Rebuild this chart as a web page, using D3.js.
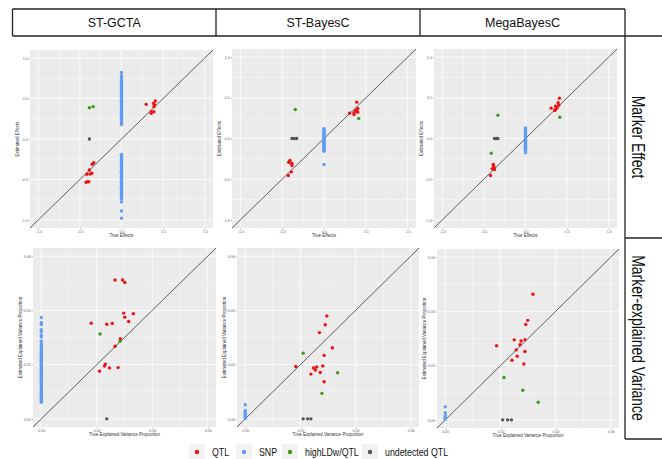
<!DOCTYPE html>
<html>
<head>
<meta charset="utf-8">
<script src="https://cdn.jsdelivr.net/npm/d3@7"></script>
<style>
  body { margin: 0; background: #fff; }
  text { font-family: "Liberation Sans", Arial, sans-serif; }
</style>
</head>
<body>
<div id="chart"></div>
<script>

// data

const methods = ["ST-GCTA", "ST-BayesC", "MegaBayesC"];
const rowLabels = ["Marker Effect", "Marker-explained Variance"];
const groups = ["QTL", "SNP", "highLDw/QTL", "undetected QTL"];

const effectTicks = [-1, -0.5, 0, 0.5, 1];
const varTicks = [0, 0.02, 0.04, 0.06];

// ST-GCTA, marker effect
const gctaEffQtl = [[0.297, 0.428], [0.386, 0.44], [0.406, 0.469], [0.398, 0.42], [0.39, 0.40],
  [0.357, 0.337], [0.357, 0.317], [0.39, 0.337], [-0.333, -0.292], [-0.353, -0.313],
  [-0.386, -0.383], [-0.357, -0.424], [-0.378, -0.432], [-0.418, -0.436], [-0.406, -0.527],
  [-0.426, -0.535], [-0.394, -0.527]];
const gctaEffSnp = [0.18, 0.195, 0.21, 0.225, 0.24, 0.255, 0.27, 0.285, 0.30, 0.315, 0.33, 0.345,
  0.36, 0.375, 0.39, 0.405, 0.42, 0.435, 0.45, 0.465, 0.48, 0.495, 0.51, 0.525, 0.54, 0.555,
  0.57, 0.585, 0.60, 0.615, 0.63, 0.645, 0.66, 0.675, 0.69, 0.705, 0.72, 0.75, 0.782, 0.823,
  -0.19, -0.205, -0.22, -0.235, -0.25, -0.265, -0.28, -0.295, -0.31, -0.325, -0.34, -0.355,
  -0.37, -0.385, -0.40, -0.415, -0.43, -0.445, -0.46, -0.475, -0.49, -0.505, -0.52, -0.535,
  -0.55, -0.565, -0.58, -0.595, -0.61, -0.625, -0.64, -0.655, -0.67, -0.685, -0.70, -0.715,
  -0.745, -0.78, -0.889, -0.979];
const gctaEffLd = [[-0.386, 0.387], [-0.341, 0.40]];
const gctaEffMiss = [[-0.386, 0]];

// ST-BayesC, marker effect
const bayesEffQtl = [[0.391, 0.447], [0.403, 0.369], [0.395, 0.336], [0.403, 0.324], [0.359, 0.316],
  [0.359, 0.295], [0.306, 0.311], [0.379, 0.344], [-0.407, -0.27], [-0.415, -0.291],
  [-0.383, -0.307], [-0.383, -0.332], [-0.391, -0.41], [-0.427, -0.455]];
const bayesEffSnp = [0.119, 0.107, 0.095, 0.083, 0.071, 0.059, 0.047, 0.035, 0.023, 0.011, -0.001,
  -0.013, -0.025, -0.037, -0.049, -0.061, -0.073, -0.085, -0.097, -0.109, -0.121, -0.133,
  -0.145, -0.156, -0.32];
const bayesEffLd = [[0.415, 0.246], [-0.343, 0.357], [-0.423, -0.291]];
const bayesEffMiss = [[-0.383, 0], [-0.355, 0], [-0.327, 0]];

// MegaBayesC, marker effect
const megaEffQtl = [[0.408, 0.496], [0.392, 0.439], [0.40, 0.41], [0.38, 0.377], [0.36, 0.398],
  [0.36, 0.357], [0.308, 0.373], [0.352, 0.344], [-0.388, -0.32], [-0.38, -0.348],
  [-0.40, -0.373], [-0.372, -0.381], [-0.385, -0.36], [-0.42, -0.455]];
const megaEffSnp = [0.131, 0.119, 0.107, 0.095, 0.083, 0.071, 0.059, 0.047, 0.035, 0.023, 0.011,
  -0.001, -0.013, -0.025, -0.037, -0.049, -0.061, -0.073, -0.085, -0.097, -0.109, -0.121,
  -0.133, -0.16, -0.176];
const megaEffLd = [[0.412, 0.262], [-0.332, 0.287], [-0.412, -0.18]];
const megaEffMiss = [[-0.372, 0], [-0.352, 0], [-0.332, 0]];

// ST-GCTA, explained variance
const gctaVarQtl = [[0.0266, 0.0512], [0.0293, 0.0512], [0.0301, 0.0503], [0.0297, 0.039],
  [0.0301, 0.0375], [0.0332, 0.0388], [0.0315, 0.0359], [0.018, 0.0353], [0.0236, 0.0349],
  [0.0256, 0.0352], [0.0285, 0.0296], [0.0266, 0.0268], [0.0231, 0.0202], [0.0228, 0.0195],
  [0.0246, 0.0188], [0.021, 0.0176], [0.0277, 0.0189]];
const gctaVarSnp = [0.0374, 0.0355, 0.0348, 0.0329, 0.032, 0.0308, 0.0302, 0.0286, 0.0277,
  0.0271, 0.0266, 0.0261, 0.0256, 0.0251, 0.0246, 0.0241, 0.0236, 0.0231, 0.0226, 0.0221,
  0.0216, 0.0211, 0.0206, 0.0201, 0.0196, 0.0191, 0.0186, 0.0181, 0.0176, 0.0171, 0.0166,
  0.0161, 0.0156, 0.0151, 0.0146, 0.0141, 0.0136, 0.0131, 0.0126, 0.0121, 0.0116, 0.0111,
  0.0106, 0.0101, 0.0096, 0.0091, 0.0086, 0.0081, 0.0076, 0.0071, 0.0066, 0.0061];
const gctaVarLd = [[0.0212, 0.0313], [0.0284, 0.0286]];
const gctaVarMiss = [[0.0236, 0]];

// ST-BayesC, explained variance
const bayesVarQtl = [[0.0296, 0.0379], [0.029, 0.0347], [0.0269, 0.0318], [0.0316, 0.0262],
  [0.0286, 0.0234], [0.0281, 0.0195], [0.0259, 0.0191], [0.0247, 0.0188], [0.0254, 0.018],
  [0.0272, 0.0171], [0.0238, 0.0165], [0.0183, 0.0193], [0.0286, 0.0137]];
const bayesVarSnp = [0.0052, 0.0031, 0.0027, 0.0023, 0.0019, 0.0015, 0.0011, 0.0007, 0.0004, 0.0001];
const bayesVarLd = [[0.021, 0.0242], [0.0335, 0.017], [0.0278, 0.0094]];
const bayesVarMiss = [[0.021, 0], [0.0226, 0], [0.0238, 0]];

// MegaBayesC, explained variance
const megaVarQtl = [[0.0318, 0.0463], [0.0299, 0.0367], [0.0292, 0.0352], [0.025, 0.0295],
  [0.0275, 0.0291], [0.0289, 0.0296], [0.0271, 0.0277], [0.0257, 0.0258], [0.0186, 0.0273],
  [0.0289, 0.0252], [0.0261, 0.0235], [0.0242, 0.022], [0.0285, 0.0206]];
const megaVarSnp = [0.0048, 0.0026, 0.0015, 0.0009, 0.0005, 0.0002];
const megaVarLd = [[0.0213, 0.0156], [0.0281, 0.0109], [0.0337, 0.0065]];
const megaVarMiss = [[0.0208, 0], [0.0226, 0], [0.024, 0]];

// styles and layout

const colors = {"QTL": "#ee1111", "SNP": "#5f9cf4", "highLDw/QTL": "#3f9a1c", "undetected QTL": "#555555"};

const effDomain = [-1.1, 1.1];
const varDomain = [-0.003, 0.063];

const panels = [
  {box: [30, 213, 50, 228], domain: effDomain, ticks: effectTicks, fmt: d => d.toFixed(1),
   xt: "True Effects", yt: "Estimated Effects",
   qtl: gctaEffQtl, snp: gctaEffSnp, ld: gctaEffLd, miss: gctaEffMiss},
  {box: [232, 416, 49, 228], domain: effDomain, ticks: effectTicks, fmt: d => d.toFixed(1),
   xt: "True Effects", yt: "Estimated Effects",
   qtl: bayesEffQtl, snp: bayesEffSnp, ld: bayesEffLd, miss: bayesEffMiss},
  {box: [434, 617, 49, 228], domain: effDomain, ticks: effectTicks, fmt: d => d.toFixed(1),
   xt: "True Effects", yt: "Estimated Effects",
   qtl: megaEffQtl, snp: megaEffSnp, ld: megaEffLd, miss: megaEffMiss},
  {box: [33, 216, 248, 427], domain: varDomain, ticks: varTicks, fmt: d => d.toFixed(2),
   xt: "True Explained Variance Proportion", yt: "Estimated Explained Variance Proportion",
   qtl: gctaVarQtl, snp: gctaVarSnp, ld: gctaVarLd, miss: gctaVarMiss},
  {box: [237, 419, 248, 427], domain: varDomain, ticks: varTicks, fmt: d => d.toFixed(2),
   xt: "True Explained Variance Proportion", yt: "Estimated Explained Variance Proportion",
   qtl: bayesVarQtl, snp: bayesVarSnp, ld: bayesVarLd, miss: bayesVarMiss},
  {box: [437, 619, 249, 428], domain: varDomain, ticks: varTicks, fmt: d => d.toFixed(2),
   xt: "True Explained Variance Proportion", yt: "Estimated Explained Variance Proportion",
   qtl: megaVarQtl, snp: megaVarSnp, ld: megaVarLd, miss: megaVarMiss}
];

const svg = d3.select("#chart")
  .append("svg")
  .attr("width", 662)
  .attr("height", 459);

svg.append("rect").attr("width", 662).attr("height", 459).attr("fill", "#fff");

// one ggplot-like panel

function drawPanel(p) {
  const [x0, x1, y0, y1] = p.box;
  const x = d3.scaleLinear().domain(p.domain).range([x0, x1]);
  const y = d3.scaleLinear().domain(p.domain).range([y1, y0]);
  const g = svg.append("g");

  g.append("rect")
    .attr("x", x0).attr("y", y0)
    .attr("width", x1 - x0).attr("height", y1 - y0)
    .attr("fill", "#ebebeb");

  // minor grid halfway between major ticks
  const minor = d3.pairs(p.ticks).map(([a, b]) => (a + b) / 2);
  g.selectAll(".vmin").data(minor).join("line")
    .attr("x1", d => x(d)).attr("x2", d => x(d)).attr("y1", y0).attr("y2", y1)
    .attr("stroke", "#fff").attr("stroke-width", 0.4);
  g.selectAll(".hmin").data(minor).join("line")
    .attr("y1", d => y(d)).attr("y2", d => y(d)).attr("x1", x0).attr("x2", x1)
    .attr("stroke", "#fff").attr("stroke-width", 0.4);
  g.selectAll(".vmaj").data(p.ticks).join("line")
    .attr("x1", d => x(d)).attr("x2", d => x(d)).attr("y1", y0).attr("y2", y1)
    .attr("stroke", "#fff").attr("stroke-width", 0.8);
  g.selectAll(".hmaj").data(p.ticks).join("line")
    .attr("y1", d => y(d)).attr("y2", d => y(d)).attr("x1", x0).attr("x2", x1)
    .attr("stroke", "#fff").attr("stroke-width", 0.8);

  // y = x reference line
  g.append("line")
    .attr("x1", x(p.domain[0])).attr("y1", y(p.domain[0]))
    .attr("x2", x(p.domain[1])).attr("y2", y(p.domain[1]))
    .attr("stroke", "#3a3a3a").attr("stroke-width", 0.8);

  // axes
  const xAxis = d3.axisBottom(x).tickValues(p.ticks).tickSize(1.5).tickPadding(0.8).tickFormat(p.fmt);
  const yAxis = d3.axisLeft(y).tickValues(p.ticks).tickSize(1.5).tickPadding(0.8).tickFormat(p.fmt);
  const xa = g.append("g").attr("transform", `translate(0,${y1})`).call(xAxis);
  const ya = g.append("g").attr("transform", `translate(${x0},0)`).call(yAxis);
  [xa, ya].forEach(a => {
    a.select(".domain").remove();
    a.selectAll("line").attr("stroke", "#777").attr("stroke-width", 0.5);
    a.selectAll("text").attr("fill", "#666").attr("font-size", 3.6)
      .attr("font-family", "Liberation Sans, Arial, sans-serif");
  });

  g.append("text")
    .attr("x", (x0 + x1) / 2).attr("y", y1 + 9)
    .attr("text-anchor", "middle").attr("font-size", 4.5).attr("fill", "#333")
    .text(p.xt);
  g.append("text")
    .attr("transform", `translate(${x0 - 11},${(y0 + y1) / 2}) rotate(-90)`)
    .attr("text-anchor", "middle").attr("font-size", 4.5).attr("fill", "#333")
    .text(p.yt);

  // points
  const dot = (data, key) => g.append("g").selectAll("circle")
    .data(data).join("circle")
    .attr("cx", d => x(d[0])).attr("cy", d => y(d[1]))
    .attr("r", 1.7).attr("fill", colors[key]);

  dot(p.snp.map(v => [0, v]), "SNP");
  dot(p.miss, "undetected QTL");
  dot(p.ld, "highLDw/QTL");
  dot(p.qtl, "QTL");
}

panels.forEach(drawPanel);

// header table and row labels

const frame = svg.append("g").attr("stroke", "#222").attr("stroke-width", 1.3);
const colEdges = [12.5, 216, 420, 625];
frame.append("line").attr("x1", 12.5).attr("x2", 625).attr("y1", 9).attr("y2", 9);
frame.append("line").attr("x1", 12.5).attr("x2", 662).attr("y1", 36).attr("y2", 36);
frame.selectAll(".col").data(colEdges).join("line")
  .attr("x1", d => d).attr("x2", d => d).attr("y1", 9).attr("y2", 36);
frame.append("line").attr("x1", 625).attr("x2", 625).attr("y1", 36).attr("y2", 439);
frame.selectAll(".row").data([238, 439]).join("line")
  .attr("x1", 625).attr("x2", 662).attr("y1", d => d).attr("y2", d => d);

svg.selectAll(".method").data(methods).join("text")
  .attr("x", (d, i) => (colEdges[i] + colEdges[i + 1]) / 2)
  .attr("y", 23)
  .attr("text-anchor", "middle").attr("dominant-baseline", "central")
  .attr("font-size", 12.5).attr("fill", "#111")
  .text(d => d);

// row labels are drawn tall and narrow, as in the picture
const rowCenters = [137, 338];
svg.selectAll(".rowlab").data(rowLabels).join("text")
  .attr("transform", (d, i) => `translate(638,${rowCenters[i]}) rotate(90) scale(0.735,1)`)
  .attr("text-anchor", "middle").attr("dominant-baseline", "central")
  .attr("font-size", 19).attr("fill", "#111")
  .text(d => d);

// legend

const keyX = [189, 236, 282, 362];
const leg = svg.append("g");
leg.selectAll("rect").data(groups).join("rect")
  .attr("x", (d, i) => keyX[i]).attr("y", 444)
  .attr("width", 16).attr("height", 16).attr("fill", "#f2f2f2");
leg.selectAll("circle").data(groups).join("circle")
  .attr("cx", (d, i) => keyX[i] + 8).attr("cy", 452)
  .attr("r", 2.2).attr("fill", d => colors[d]);
leg.selectAll("text").data(groups).join("text")
  .attr("transform", (d, i) => `translate(${keyX[i] + 23},452) scale(0.8,1)`)
  .attr("dominant-baseline", "central")
  .attr("font-size", 11).attr("fill", "#111")
  .text(d => d);

</script>
</body>
</html>
